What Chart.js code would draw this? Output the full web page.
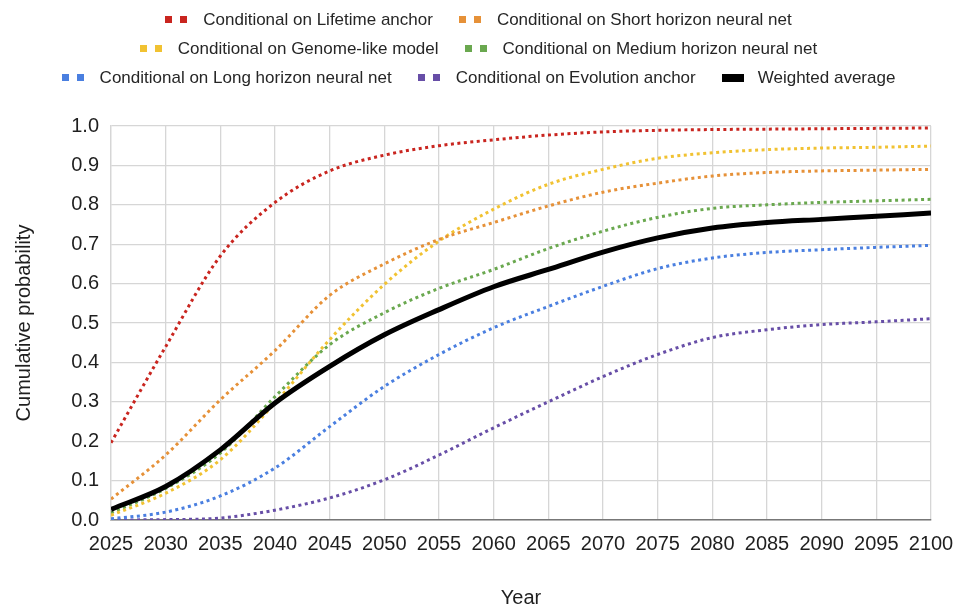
<!DOCTYPE html>
<html>
<head>
<meta charset="utf-8">
<script src="https://cdn.jsdelivr.net/npm/chart.js@4"></script>
<style>
  body { margin: 0; background: #fff; }
  #wrap { position: relative; width: 957px; height: 610px; }
  #legend { position: absolute; left: 0; top: 5px; width: 957px; font: 17px "Liberation Sans", Arial, sans-serif; color: #262626; }
  .row { display: flex; justify-content: center; height: 29px; align-items: center; }
  .item { display: flex; align-items: center; margin: 0 13px; }
  .mk { display: flex; margin-right: 16px; }
  .mk span { width: 7px; height: 7px; }
  .mk span + span { margin-left: 8px; }
  .solid { width: 22px; height: 8px; background: #000; margin-right: 14px; }
</style>
</head>
<body>
<div id="wrap">
  <canvas id="anchors-chart" width="957" height="610"></canvas>
  <div id="legend"></div>
</div>
<script>
const years = [2025, 2030, 2035, 2040, 2045, 2050, 2055, 2060, 2065, 2070, 2075, 2080, 2085, 2090, 2095, 2100];
const lifetime = [0.196, 0.44, 0.67, 0.806, 0.886, 0.926, 0.95, 0.965, 0.977, 0.985, 0.989, 0.991, 0.992, 0.993, 0.994, 0.995];
const shortHorizon = [0.053, 0.165, 0.305, 0.43, 0.57, 0.65, 0.712, 0.755, 0.797, 0.832, 0.855, 0.873, 0.882, 0.886, 0.888, 0.89];
const genome = [0.012, 0.068, 0.153, 0.297, 0.458, 0.598, 0.708, 0.789, 0.852, 0.89, 0.918, 0.932, 0.94, 0.944, 0.946, 0.949];
const mediumHorizon = [0.018, 0.08, 0.17, 0.313, 0.445, 0.526, 0.588, 0.636, 0.689, 0.733, 0.768, 0.791, 0.8, 0.806, 0.81, 0.814];
const longHorizon = [0.003, 0.02, 0.061, 0.132, 0.237, 0.339, 0.42, 0.488, 0.542, 0.593, 0.638, 0.665, 0.679, 0.686, 0.692, 0.697];
const evolution = [0.0, 0.001, 0.005, 0.025, 0.056, 0.102, 0.165, 0.234, 0.3, 0.364, 0.42, 0.463, 0.483, 0.496, 0.503, 0.511];
const weighted = [0.027, 0.085, 0.178, 0.297, 0.39, 0.47, 0.534, 0.592, 0.636, 0.68, 0.716, 0.741, 0.755, 0.763, 0.771, 0.779];

const xTicks = { min: 2025, max: 2100, step: 5 };
const yTicks = { min: 0, max: 1, step: 0.1 };

const FONT = '"Liberation Sans", Arial, sans-serif';
const TEXT = '#1f1f1f';

function pts(vals) {
  return vals.map((v, i) => ({ x: years[i], y: v }));
}

const series = [
  { label: 'Conditional on Lifetime anchor', data: lifetime, color: '#c9251f', row: 0 },
  { label: 'Conditional on Short horizon neural net', data: shortHorizon, color: '#e69138', row: 0 },
  { label: 'Conditional on Genome-like model', data: genome, color: '#f1c232', row: 1 },
  { label: 'Conditional on Medium horizon neural net', data: mediumHorizon, color: '#6aa84f', row: 1 },
  { label: 'Conditional on Long horizon neural net', data: longHorizon, color: '#4a7fe0', row: 2 },
  { label: 'Conditional on Evolution anchor', data: evolution, color: '#674ea7', row: 2 },
  { label: 'Weighted average', data: weighted, color: '#000000', row: 2, solid: true }
];

const datasets = series.map(s => ({
  label: s.label,
  data: pts(s.data),
  borderColor: s.color,
  backgroundColor: s.color,
  borderWidth: s.solid ? 5 : 3,
  borderDash: s.solid ? [] : [3, 3.5],
  pointRadius: 0,
  fill: false,
  cubicInterpolationMode: 'monotone',
  order: s.solid ? 0 : 1
}));

// html legend, laid out in three rows like the original
const legendEl = document.getElementById('legend');
[0, 1, 2].forEach(r => {
  const row = document.createElement('div');
  row.className = 'row';
  series.filter(s => s.row === r).forEach(s => {
    const item = document.createElement('div');
    item.className = 'item';
    let mk = document.createElement('div');
    if (s.solid) {
      mk.className = 'solid';
    } else {
      mk.className = 'mk';
      mk.innerHTML = '<span style="background:' + s.color + '"></span><span style="background:' + s.color + '"></span>';
    }
    item.appendChild(mk);
    const t = document.createElement('span');
    t.textContent = s.label;
    item.appendChild(t);
    row.appendChild(item);
  });
  legendEl.appendChild(row);
});

const config = {
  type: 'line',
  data: { datasets: datasets },
  options: {
    responsive: false,
    animation: false,
    layout: { padding: { top: 126, right: 26, left: 0, bottom: 0 } },
    plugins: { legend: { display: false }, tooltip: { enabled: false } },
    scales: {
      x: {
        type: 'linear',
        min: xTicks.min,
        max: xTicks.max,
        ticks: { stepSize: xTicks.step, color: TEXT, font: { family: FONT, size: 20 }, padding: 12, maxRotation: 0, autoSkip: false, callback: v => String(v) },
        grid: { color: '#d6d6d6', lineWidth: 1.3, drawTicks: false },
        border: { color: '#777', width: 1.5 },
        title: { display: true, text: 'Year', color: TEXT, font: { family: FONT, size: 20 }, padding: { top: 0, bottom: 0 } },
        afterFit: scale => { scale.height = 90; scale.paddingRight = 0; scale.paddingLeft = 0; }
      },
      y: {
        min: yTicks.min,
        max: yTicks.max,
        ticks: { stepSize: yTicks.step, color: TEXT, font: { family: FONT, size: 20 }, padding: 12, callback: v => Number(v).toFixed(1) },
        grid: { color: '#d6d6d6', lineWidth: 1.3, drawTicks: false },
        border: { color: '#d6d6d6', width: 1.3 },
        title: { display: true, text: 'Cumulative probability', color: TEXT, font: { family: FONT, size: 20 }, padding: { top: 12, bottom: 0 } },
        afterFit: scale => { scale.width = 111; scale.paddingTop = 0; scale.paddingBottom = 0; }
      }
    }
  }
};

let anchorsChart = new Chart(document.getElementById('anchors-chart'), config);
</script>
</body>
</html>
